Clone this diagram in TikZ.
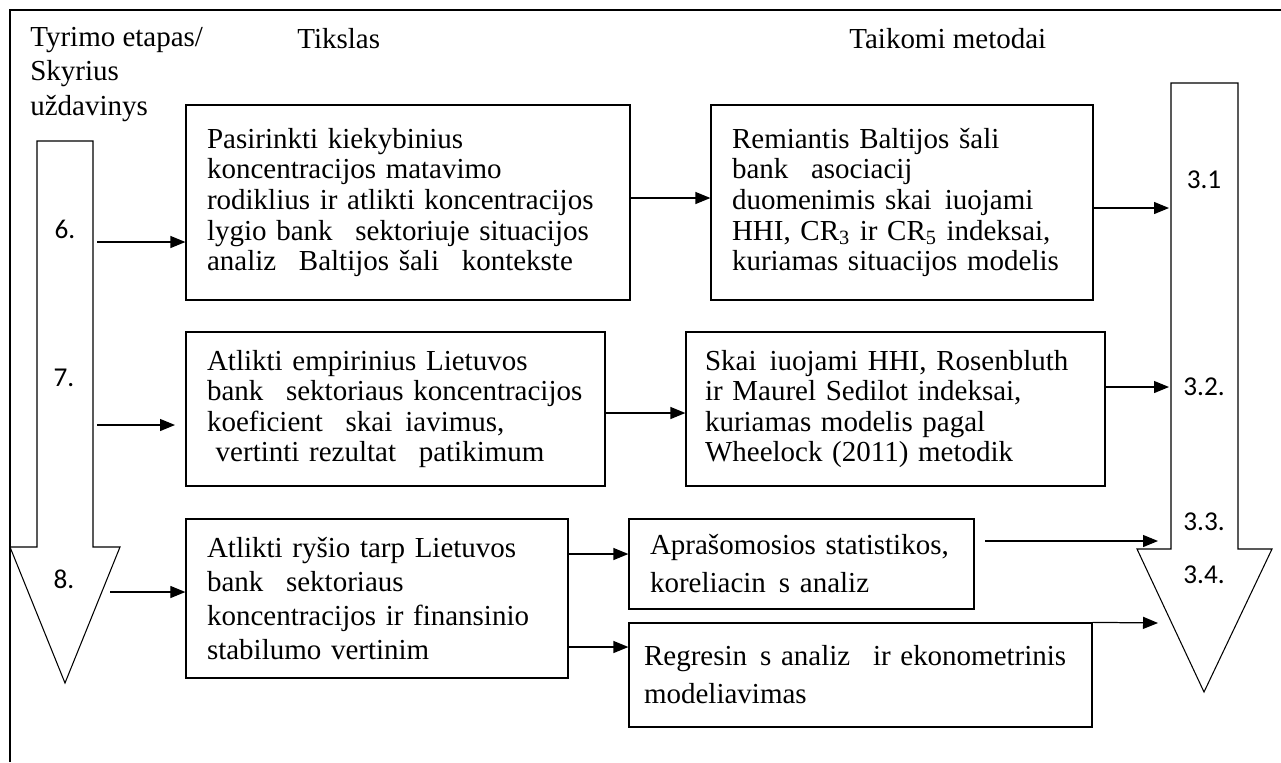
\documentclass[tikz,border=0pt]{standalone}
\usepackage{fontspec}
\setmainfont{Liberation Serif}
\newfontfamily\numfont{Carlito}
\usetikzlibrary{arrows.meta}
\newcommand{\lgap}{\hspace{0.45em}}
\tikzstyle{goal} = [rectangle, draw=black, line width=0.75pt, align=left, inner xsep=0.42cm, inner ysep=0pt, font=\fontsize{16.5}{17.4}\selectfont]
\tikzstyle{method} = [goal]
\tikzstyle{head} = [inner sep=0pt, font=\fontsize{16.5}{19.6}\selectfont]
\tikzstyle{stage} = [inner sep=0pt, font=\numfont\fontsize{15.5}{18}\selectfont]
\tikzstyle{arrow} = [line width=0.7pt, -{Triangle[length=0.3cm, width=0.24cm]}]
\tikzset{
  bigarrow/.style={
    draw=black,
    line width=0.6pt, % thin outline of the two long arrows
    line join=miter
  }
}
\begin{document}
\begin{tikzpicture}[x=0.02cm, y=-0.02cm]
    \useasboundingbox (0,0) rectangle (1281,762);
    \draw[line width=0.9pt] (10,762) -- (10,10) -- (1281,10);
    % column heads
    \node (hs)[head, anchor=north west, align=left] at (30,27) {Tyrimo etapas/\\Skyrius\\uždavinys};
    \node (hg)[head, anchor=base west] at (297,48) {Tikslas};
    \node (hm)[head, anchor=base west] at (849,48) {Taikomi metodai};
    % long arrows
    \draw[bigarrow] (37,141) -- (93,141) -- (93,547) -- (120,547) -- (65,683) -- (10,547) -- (37,547) -- cycle;
    \draw[bigarrow] (1171,83) -- (1238,83) -- (1238,549) -- (1272,549) -- (1204,692) -- (1137,549) -- (1171,549) -- cycle;
    \node (n6)[stage] at (65,229) {6.};
    \node (n7)[stage] at (64,378) {7.};
    \node (n8)[stage] at (64,579) {8.};
    \node (n31)[stage] at (1204,180) {3.1};
    \node (n32)[stage] at (1204,387) {3.2.};
    \node (n33)[stage] at (1204,522) {3.3.};
    \node (n34)[stage] at (1204,575) {3.4.};
    % goals
    \node (t6)[goal, text width=8.04cm, minimum height=3.9cm] at (408,202.5) {Pasirinkti kiekybinius\\koncentracijos matavimo\\rodiklius ir atlikti koncentracijos\\lygio bank\lgap{} sektoriuje situacijos\\analiz\lgap{} Baltijos šali\lgap{} kontekste};
    \node (t7)[goal, text width=7.54cm, minimum height=3.08cm] at (395.5,409) {Atlikti empirinius Lietuvos\\bank\lgap{} sektoriaus koncentracijos\\koeficient\lgap{} skai\lgap iavimus,\\\hspace*{0.3em}vertinti rezultat\lgap{} patikimum};
    \node (t8)[goal, text width=6.8cm, minimum height=3.18cm, font=\fontsize{16.5}{19.3}\selectfont] at (377,598.5) {Atlikti ryšio tarp Lietuvos\\bank\lgap{} sektoriaus\\koncentracijos ir finansinio\\stabilumo vertinim};
    % methods
    \node (m6)[method, text width=6.8cm, minimum height=3.9cm] at (902,202.5) {Remiantis Baltijos šali\\bank\lgap{} asociacij\\duomenimis skai\lgap iuojami\\HHI, CR\textsubscript{3} ir CR\textsubscript{5} indeksai,\\kuriamas situacijos modelis};
    \node (m7)[method, text width=7.62cm, inner xsep=0.38cm, minimum height=3.08cm] at (895.5,409) {Skai\lgap iuojami HHI, Rosenbluth\\ir Maurel Sedilot indeksai,\\kuriamas modelis pagal\\Wheelock (2011) metodik};
    \node (m8a)[method, text width=6.06cm, minimum height=1.8cm, font=\fontsize{16.5}{21.6}\selectfont] at (801.5,564) {Aprašomosios statistikos,\\koreliacin\lgap s analiz};
    \node (m8b)[method, text width=8.66cm, inner xsep=0.3cm, minimum height=2.08cm, font=\fontsize{16.5}{21.6}\selectfont] at (860.5,675) {Regresin\lgap s analiz\lgap{} ir ekonometrinis\\modeliavimas};
    % free ends on the long arrows
    \coordinate (in6) at (97,242);
    \coordinate (in7) at (97,425);
    \coordinate (in7e) at (175,425);
    \coordinate (in8) at (110,592);
    \coordinate (out6) at (1169,208);
    \coordinate (out7) at (1169,387);
    \coordinate (out8a) at (985,541);
    \coordinate (out8ae) at (1158,541);
    \coordinate (out8b) at (1158,623);
    \draw[arrow] (in6) -- (in6 -| t6.west);
    \draw[arrow] (in7) -- (in7e);
    \draw[arrow] (in8) -- (in8 -| t8.west);
    \draw[arrow] (t6.east |- 0,198) -- (m6.west |- 0,198);
    \draw[arrow] (t7.east |- 0,413) -- (m7.west |- 0,413);
    \draw[arrow] (t8.east |- 0,554) -- (m8a.west |- 0,554);
    \draw[arrow] (t8.east |- 0,647) -- (m8b.west |- 0,647);
    \draw[arrow] (m6.east |- out6) -- (out6);
    \draw[arrow] (m7.east |- out7) -- (out7);
    \draw[arrow] (out8a) -- (out8ae);
    \draw[arrow] (m8b.north east) -- (out8b);
\end{tikzpicture}
\end{document}
